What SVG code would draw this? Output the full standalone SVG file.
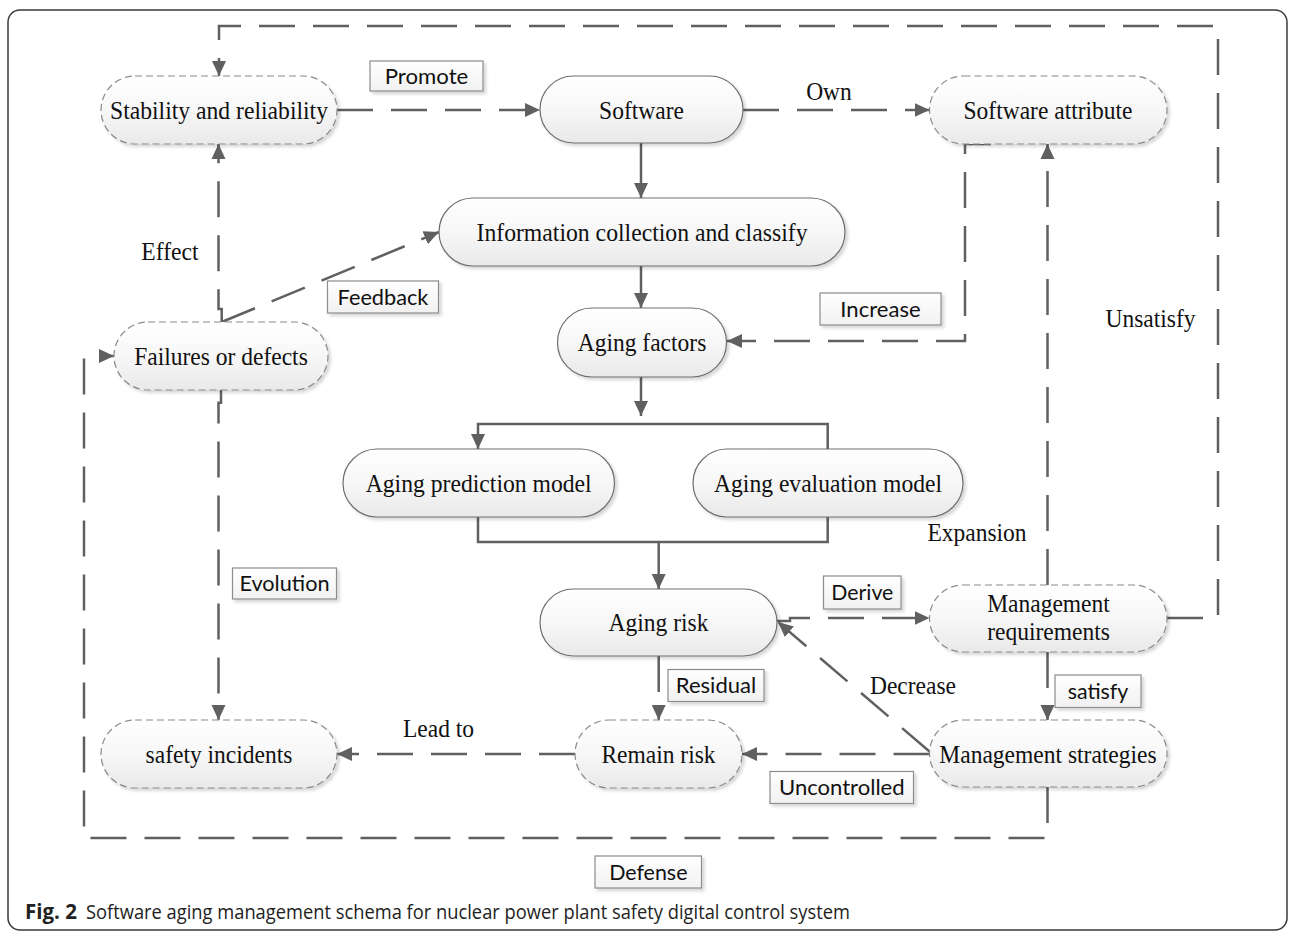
<svg xmlns="http://www.w3.org/2000/svg" width="1293" height="932" viewBox="0 0 1293 932">
<style>
.node{fill:url(#gNode);stroke:#6e6e6e;stroke-width:1.2;filter:url(#sh)}
.dnode{fill:url(#gNode);stroke:#8a8a8a;stroke-width:1.2;stroke-dasharray:7 4;filter:url(#sh)}
.lbl{fill:url(#gBox);stroke:#8c8c8c;stroke-width:1.2;filter:url(#sh)}
.t{font-family:"Liberation Serif","Times New Roman",serif;font-size:26px;fill:#111;text-anchor:middle}
.l{font-family:Lato,"Open Sans",sans-serif;font-size:21.5px;fill:#111;text-anchor:middle}
.c{fill:none;stroke:#606060;stroke-width:2.5}
.d{stroke-dasharray:36 18}
.a{marker-end:url(#ah)}
.cap{font-family:"Open Sans","Noto Sans",sans-serif;font-size:20.5px;fill:#222}
</style>
<defs>
<linearGradient id="gNode" x1="0" y1="0" x2="0" y2="1">
<stop offset="0" stop-color="#ffffff"/>
<stop offset="0.5" stop-color="#f7f7f7"/>
<stop offset="1" stop-color="#e9e9e9"/>
</linearGradient>
<linearGradient id="gBox" x1="0" y1="0" x2="0" y2="1">
<stop offset="0" stop-color="#ffffff"/>
<stop offset="1" stop-color="#f1f1f1"/>
</linearGradient>
<filter id="sh" x="-10%" y="-20%" width="130%" height="150%">
<feDropShadow dx="2.5" dy="2.5" stdDeviation="1.5" flood-color="#000" flood-opacity="0.16"/>
</filter>
<marker id="ah" viewBox="0 0 15 15" refX="15" refY="7.5" markerWidth="15" markerHeight="15" markerUnits="userSpaceOnUse" orient="auto">
<path d="M0,0.5 L15,7.5 L0,14.5 z" fill="#606060"/>
</marker>
</defs>

<rect x="8" y="10" width="1279" height="920" rx="12" fill="#fff" stroke="#3a3a3a" stroke-width="1.5"/>

<g id="connectors">
<path class="c d a" d="M1167,618 H1218 V26 H219 V76"/>
<path class="c d a" d="M337,110 H540"/>
<path class="c a" d="M641,143 V198"/>
<path class="c d a" d="M743,110 H929.5"/>
<path class="c a" d="M641,266 V308"/>
<path class="c d a" d="M991,144 H965 V341 H727"/>
<path class="c d a" d="M1047.5,585 V144"/>
<path class="c d a" d="M221.7,322 V309 H218.5 V144"/>
<path class="c d a" d="M221.7,322 L439,232"/>
<path class="c d a" d="M1047.5,787 V838 H84 V356 H114"/>
<path class="c d a" d="M221,390 V402.7 H218.5 V720"/>
<path class="c a" d="M641,377 V416"/>
<path class="c a" d="M827.7,449 V424 H478 V449"/>
<path class="c" d="M478,517 V542 H827.7 V517"/>
<path class="c a" d="M658.7,542 V589"/>
<path class="c d a" d="M777,621 H790 V618 H929.5"/>
<path class="c d a" d="M929.5,751.5 L778,622"/>
<path class="c d a" d="M658.7,656 V720"/>
<path class="c d a" d="M1047.5,652 V720"/>
<path class="c d a" d="M929.5,754 H742"/>
<path class="c d a" d="M575,754 H337"/>
</g>

<g id="software"><rect class="node" x="540" y="76" width="203" height="67" rx="33.5"/><text class="t" x="641.5" y="119" textLength="84.8" lengthAdjust="spacingAndGlyphs">Software</text></g>
<g id="info"><rect class="node" x="439" y="198" width="406" height="68" rx="34"/><text class="t" x="642" y="241" textLength="331" lengthAdjust="spacingAndGlyphs">Information collection and classify</text></g>
<g id="aging-factors"><rect class="node" x="557.5" y="308" width="169" height="69" rx="34.5"/><text class="t" x="642" y="351" textLength="128.6" lengthAdjust="spacingAndGlyphs">Aging factors</text></g>
<g id="aging-prediction"><rect class="node" x="343" y="449" width="271.5" height="68" rx="34"/><text class="t" x="478.7" y="492" textLength="226" lengthAdjust="spacingAndGlyphs">Aging prediction model</text></g>
<g id="aging-evaluation"><rect class="node" x="693" y="449" width="270" height="68" rx="34"/><text class="t" x="828" y="492" textLength="228" lengthAdjust="spacingAndGlyphs">Aging evaluation model</text></g>
<g id="aging-risk"><rect class="node" x="540" y="589" width="237" height="67" rx="33.5"/><text class="t" x="658.5" y="631" textLength="99.9" lengthAdjust="spacingAndGlyphs">Aging risk</text></g>

<g id="stability"><rect class="dnode" x="101" y="76" width="236" height="68" rx="34"/><text class="t" x="219" y="119" textLength="218" lengthAdjust="spacingAndGlyphs">Stability and reliability</text></g>
<g id="software-attribute"><rect class="dnode" x="929.5" y="76" width="237.5" height="68" rx="34"/><text class="t" x="1048" y="119" textLength="169" lengthAdjust="spacingAndGlyphs">Software attribute</text></g>
<g id="failures"><rect class="dnode" x="114" y="322" width="214" height="68" rx="34"/><text class="t" x="221" y="365" textLength="173.6" lengthAdjust="spacingAndGlyphs">Failures or defects</text></g>
<g id="safety-incidents"><rect class="dnode" x="101" y="720" width="236" height="68" rx="34"/><text class="t" x="219" y="763" textLength="146.9" lengthAdjust="spacingAndGlyphs">safety incidents</text></g>
<g id="remain-risk"><rect class="dnode" x="575" y="720" width="167" height="68" rx="34"/><text class="t" x="658.5" y="763" textLength="114.2" lengthAdjust="spacingAndGlyphs">Remain risk</text></g>
<g id="mgmt-requirements"><rect class="dnode" x="929.5" y="585" width="237.5" height="67" rx="33.5"/><text class="t" x="1048.5" y="612" textLength="122.7" lengthAdjust="spacingAndGlyphs">Management</text><text class="t" x="1048.5" y="640" textLength="122.7" lengthAdjust="spacingAndGlyphs">requirements</text></g>
<g id="mgmt-strategies"><rect class="dnode" x="929.5" y="720" width="237.5" height="67" rx="33.5"/><text class="t" x="1048" y="763" textLength="217.3" lengthAdjust="spacingAndGlyphs">Management strategies</text></g>

<g id="labels">
<g id="lbl-promote"><rect class="lbl" x="370" y="61" width="113" height="30"/><text class="l" x="426.5" y="83.5" textLength="83.5" lengthAdjust="spacingAndGlyphs">Promote</text></g>
<g id="lbl-feedback"><rect class="lbl" x="327.5" y="281" width="111" height="32"/><text class="l" x="383" y="304.5" textLength="90.8" lengthAdjust="spacingAndGlyphs">Feedback</text></g>
<g id="lbl-increase"><rect class="lbl" x="820" y="293" width="121" height="32"/><text class="l" x="880.5" y="316.5" textLength="80.3" lengthAdjust="spacingAndGlyphs">Increase</text></g>
<g id="lbl-evolution"><rect class="lbl" x="232.5" y="568" width="104" height="31"/><text class="l" x="284.5" y="591" textLength="90.2" lengthAdjust="spacingAndGlyphs">Evolution</text></g>
<g id="lbl-derive"><rect class="lbl" x="823.5" y="576" width="77.5" height="33"/><text class="l" x="862.3" y="600" textLength="62.1" lengthAdjust="spacingAndGlyphs">Derive</text></g>
<g id="lbl-residual"><rect class="lbl" x="668" y="669.5" width="96" height="32"/><text class="l" x="716" y="693" textLength="80.3" lengthAdjust="spacingAndGlyphs">Residual</text></g>
<g id="lbl-satisfy"><rect class="lbl" x="1055" y="675" width="86" height="32.5"/><text class="l" x="1098" y="698.5" textLength="60.7" lengthAdjust="spacingAndGlyphs">satisfy</text></g>
<g id="lbl-uncontrolled"><rect class="lbl" x="770" y="771.5" width="143.5" height="32"/><text class="l" x="841.8" y="795" textLength="125.6" lengthAdjust="spacingAndGlyphs">Uncontrolled</text></g>
<g id="lbl-defense"><rect class="lbl" x="595" y="856" width="106.5" height="32"/><text class="l" x="648.3" y="879.5" textLength="78.3" lengthAdjust="spacingAndGlyphs">Defense</text></g>
<text class="t" x="829" y="100" textLength="45.7" lengthAdjust="spacingAndGlyphs">Own</text>
<text class="t" x="170" y="260" textLength="57.4" lengthAdjust="spacingAndGlyphs">Effect</text>
<text class="t" x="1150.5" y="327" textLength="90" lengthAdjust="spacingAndGlyphs">Unsatisfy</text>
<text class="t" x="977" y="541" textLength="99.2" lengthAdjust="spacingAndGlyphs">Expansion</text>
<text class="t" x="913" y="694" textLength="86.1" lengthAdjust="spacingAndGlyphs">Decrease</text>
<text class="t" x="438.5" y="737" textLength="71.1" lengthAdjust="spacingAndGlyphs">Lead to</text>
</g>

<text class="cap" x="25" y="919" font-weight="bold" textLength="52" lengthAdjust="spacingAndGlyphs">Fig. 2</text>
<text class="cap" x="86" y="919" textLength="764" lengthAdjust="spacingAndGlyphs">Software aging management schema for nuclear power plant safety digital control system</text>
</svg>
